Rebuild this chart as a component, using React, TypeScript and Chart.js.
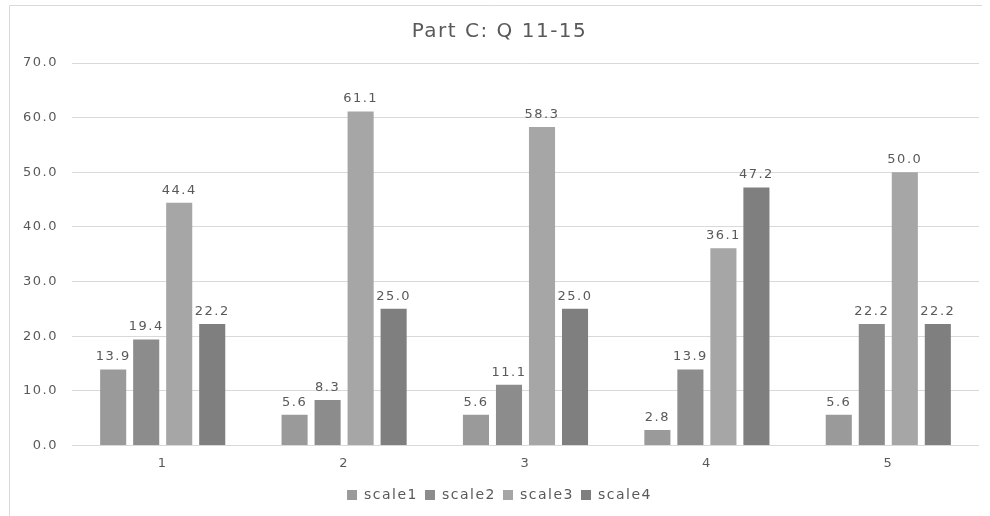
import React, { useEffect, useRef } from "react";
import { Chart, registerables } from "chart.js";

Chart.register(...registerables);

const categories = ["1", "2", "3", "4", "5"];
const scale1 = [13.9, 5.6, 5.6, 2.8, 5.6];
const scale2 = [19.4, 8.3, 11.1, 13.9, 22.2];
const scale3 = [44.4, 61.1, 58.3, 36.1, 50.0];
const scale4 = [22.2, 25.0, 25.0, 47.2, 22.2];
const seriesNames = ["scale1", "scale2", "scale3", "scale4"];
const seriesColors = ["#9a9a9a", "#8c8c8c", "#a6a6a6", "#7f7f7f"];
const titleText = "Part C: Q 11-15";

const FONT = "'DejaVu Sans', sans-serif";
const TEXT = "#595959";
const SPACING = "1.5px";

const spacingPlugin = {
  id: "spacing",
  beforeLayout(chart: any) {
    (chart.ctx as any).letterSpacing = SPACING;
  },
  beforeDraw(chart: any) {
    (chart.ctx as any).letterSpacing = SPACING;
  },
};

const framePlugin = {
  id: "frame",
  beforeDraw(chart: any) {
    const ctx = chart.ctx;
    ctx.save();
    ctx.strokeStyle = "#d9d9d9";
    ctx.lineWidth = 1;
    ctx.beginPath();
    ctx.moveTo(9.5, 516);
    ctx.lineTo(9.5, 5.5);
    ctx.lineTo(982, 5.5);
    ctx.stroke();
    ctx.restore();
  },
};

const labelPlugin = {
  id: "valueLabels",
  afterDatasetsDraw(chart: any) {
    const ctx = chart.ctx;
    ctx.save();
    ctx.font = `13px ${FONT}`;
    ctx.fillStyle = TEXT;
    ctx.textAlign = "center";
    ctx.textBaseline = "bottom";
    chart.data.datasets.forEach((ds: any, i: number) => {
      const meta = chart.getDatasetMeta(i);
      meta.data.forEach((bar: any, j: number) => {
        ctx.fillText(Number(ds.data[j]).toFixed(1), bar.x, bar.y - 6);
      });
    });
    ctx.restore();
  },
};

export default function App() {
  const ref = useRef<HTMLCanvasElement | null>(null);
  useEffect(() => {
    if (!ref.current) return;
    const values = [scale1, scale2, scale3, scale4];
    const chart = new Chart(ref.current, {
      type: "bar",
      data: {
        labels: categories,
        datasets: seriesNames.map((name, i) => ({
          label: name,
          data: values[i],
          backgroundColor: seriesColors[i],
          categoryPercentage: 0.728,
          barPercentage: 0.79,
        })),
      },
      options: {
        animation: false,
        responsive: false,
        maintainAspectRatio: false,
        layout: { padding: { left: 20, right: 11, top: 10, bottom: 4 } },
        plugins: {
          title: {
            display: true,
            text: titleText,
            color: TEXT,
            font: { family: FONT, size: 20, weight: "normal" },
            padding: { top: 10, bottom: 19 },
          },
          legend: {
            position: "bottom",
            labels: {
              boxWidth: 10,
              boxHeight: 10,
              padding: 7,
              color: TEXT,
              font: { family: FONT, size: 14 },
            },
          },
          tooltip: { enabled: false },
        },
        scales: {
          x: {
            grid: { display: false, drawTicks: false },
            border: { display: false },
            ticks: { color: TEXT, font: { family: FONT, size: 13 }, padding: 10 },
          },
          y: {
            min: 0,
            max: 70,
            grid: { color: "#d9d9d9", drawTicks: false },
            border: { display: false },
            ticks: {
              stepSize: 10,
              color: TEXT,
              padding: 14,
              font: { family: FONT, size: 13 },
              callback: (v: any) => Number(v).toFixed(1),
            },
            afterFit: (scale: any) => {
              scale.width = 52;
            },
          },
        },
      },
      plugins: [spacingPlugin, framePlugin, labelPlugin],
    });
    return () => chart.destroy();
  }, []);
  return (
    <div style={{ position: "absolute", left: 0, top: 0, width: 990, height: 516, background: "#fff" }}>
      <canvas ref={ref} width={990} height={516} style={{ display: "block" }} />
    </div>
  );
}
